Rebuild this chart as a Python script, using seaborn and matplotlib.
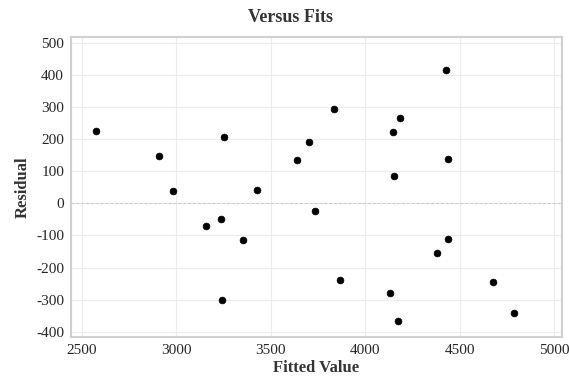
import numpy as np
import pandas as pd
import matplotlib
matplotlib.use("Agg")
import matplotlib.pyplot as plt
import seaborn as sns

# fitted values and residuals
fitted = [2574, 2910, 2984, 3254, 3640, 3700, 3833, 4184, 4147, 4429, 4439, 4150, 3425,
          3156, 3235, 3354, 3243, 3735, 3868, 4131, 4171, 4379, 4439, 4674, 4788]
residual = [224, 148, 40, 206, 134, 192, 294, 265, 223, 414, 139, 84, 41,
            -69, -48, -114, -301, -23, -238, -279, -367, -155, -110, -246, -341]
x_ticks = [2500, 3000, 3500, 4000, 4500, 5000]
y_ticks = [-400, -300, -200, -100, 0, 100, 200, 300, 400, 500]

df = pd.DataFrame({"Fitted Value": fitted, "Residual": residual})

sns.set_style("white")
plt.rcParams["font.family"] = ["Liberation Serif", "DejaVu Serif"]
plt.rcParams["axes.unicode_minus"] = False

fig = plt.figure(figsize=(5.69, 3.77), dpi=100)
ax = fig.add_axes([0.1248, 0.1061, 0.8629, 0.7958])

#grid + zero reference line
for v in x_ticks:
    ax.axvline(v, color="#ececec", lw=0.8, zorder=0)
for v in y_ticks:
    ax.axhline(v, color="#ececec", lw=0.8, zorder=0)
ax.axhline(0, color="#c8c8c8", lw=0.7, ls=(0, (3, 2)), zorder=1)

sns.scatterplot(data=df, x="Fitted Value", y="Residual", color="black", s=24,
                edgecolor="black", linewidth=0.5, ax=ax, zorder=3)

ax.set_xlim(2443, 5041)
ax.set_ylim(-416, 518)
ax.set_xticks(x_ticks)
ax.set_yticks(y_ticks)
ax.tick_params(axis="both", labelsize=11, length=3, color="#b0b0b0", pad=2,
               labelcolor="#262626")
for sp in ax.spines.values():
    sp.set_color("#d0d0d0")
    sp.set_linewidth(1.5)

ax.set_xlabel("Fitted Value", fontsize=12, fontweight="bold", color="#333333", labelpad=2)
ax.set_ylabel("Residual", fontsize=12, fontweight="bold", color="#333333", labelpad=4)
fig.text(290 / 569, 1 - 18 / 377, "Versus Fits", fontsize=13, fontweight="bold",
         color="#333333", ha="center", va="center")

fig.savefig("out.png", dpi=100)
